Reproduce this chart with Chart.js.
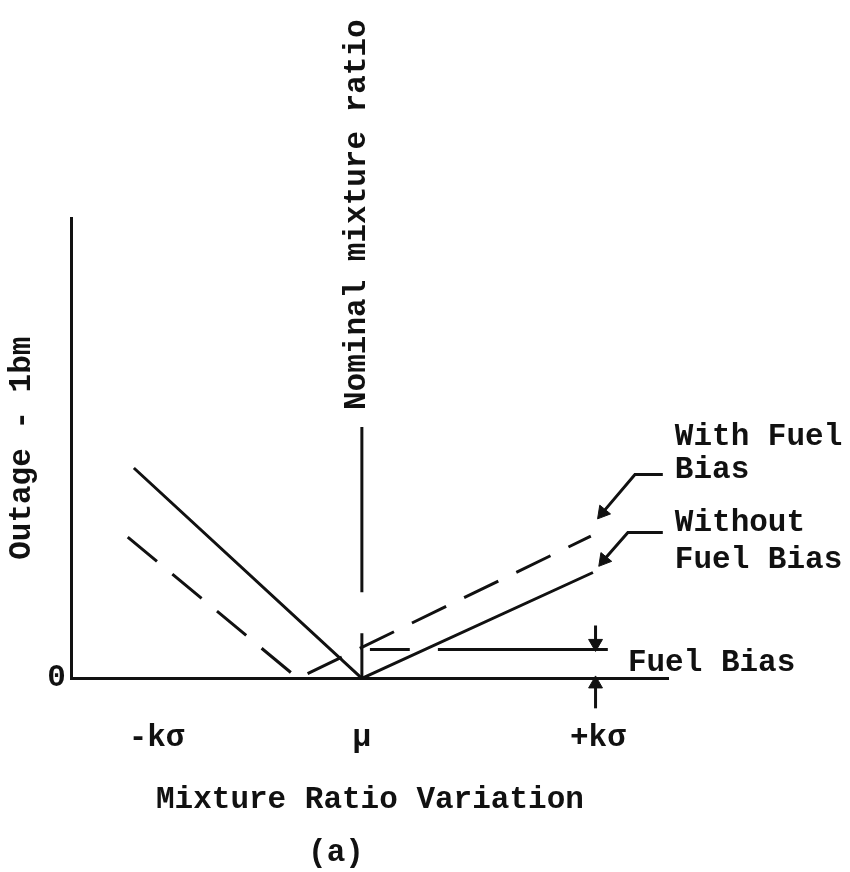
<!DOCTYPE html>
<html>
<head>
<meta charset="utf-8">
<script src="https://cdn.jsdelivr.net/npm/chart.js@4.4.1/dist/chart.umd.min.js"></script>
<style>
  html, body { margin: 0; padding: 0; background: #fff; }
  #box { width: 850px; height: 872px; }
</style>
</head>
<body>
<div id="box"><canvas id="canva1"></canvas></div>
<script>
// axe x : écart au rapport de mélange nominal (unités de kσ)
// axe y : outage (unités arbitraires)
const tickPos = [-0.87, 0, 1];
const tickLabels = ['-kσ', 'μ', '+kσ'];

// sans biais carburant (trait plein)
const sansBiaisX = [-0.966, 0, 0.979];
const sansBiaisY = [4.57, 0, 2.30];

// avec biais carburant (tirets)
const avecBiaisX = [-0.992, -0.271, 0.970];
const avecBiaisY = [3.07, 0, 3.09];

// trait vertical du rapport nominal (coupé)
const nominalX = [0, 0, 0, 0, 0];
const nominalY = [0, 0.98, null, 1.87, 5.46];

// niveau du biais carburant (coupé par la courbe pleine)
const biaisX = [0.034, 0.203, 0.26, 0.322, 1.042];
const biaisY = [0.63, 0.63, null, 0.63, 0.63];

// flèches de renvoi vers les courbes
const flecheAvecX = [1.275, 1.157, 1.02];
const flecheAvecY = [4.43, 4.43, 3.60];
const flecheSansX = [1.275, 1.127, 1.025];
const flecheSansY = [3.17, 3.17, 2.57];

// flèches de cote du biais
const coteHautX = [0.99, 0.99];
const coteHautY = [1.15, 0.76];
const coteBasX = [0.99, 0.99];
const coteBasY = [-0.65, -0.12];

const police = "'Liberation Mono', 'DejaVu Sans Mono', monospace";
const encre = '#111';

// textes posés dans le repère des données
const textes = [
  { t: 'With Fuel', x: 1.326, y: 5.24 },
  { t: 'Bias', x: 1.326, y: 4.52 },
  { t: 'Without', x: 1.326, y: 3.37 },
  { t: 'Fuel Bias', x: 1.326, y: 2.57 },
  { t: 'Fuel Bias', x: 1.127, y: 0.33 }
];

function pts(xs, ys) {
  return xs.map((v, i) => ({ x: v, y: ys[i] }));
}

function fleche(xs, ys, rotation) {
  const n = xs.length;
  return {
    data: pts(xs, ys),
    borderColor: encre,
    backgroundColor: encre,
    borderWidth: 3,
    pointStyle: 'triangle',
    pointRadius: xs.map((v, i) => (i === n - 1 ? 8 : 0)),
    pointRotation: rotation,
    pointBorderWidth: 1,
    clip: false
  };
}

// plugin pour les textes libres
const annotations = {
  id: 'annotations',
  afterDraw(chart) {
    const { ctx, scales: { x, y } } = chart;
    ctx.save();
    ctx.font = 'bold 31px ' + police;
    ctx.fillStyle = encre;
    ctx.textBaseline = 'middle';
    ctx.textAlign = 'left';
    textes.forEach(item => {
      ctx.fillText(item.t, x.getPixelForValue(item.x), y.getPixelForValue(item.y));
    });
    // texte vertical au dessus du trait nominal
    ctx.translate(x.getPixelForValue(-0.02), y.getPixelForValue(5.83));
    ctx.rotate(-Math.PI / 2);
    ctx.fillText('Nominal mixture ratio', 0, 0);
    ctx.restore();
  }
};

Chart.defaults.font.family = police;
Chart.defaults.font.size = 31;
Chart.defaults.font.weight = 'bold';
Chart.defaults.color = encre;

const ctx = document.querySelector('#canva1');

new Chart(ctx, {
  type: 'line',
  data: {
    datasets: [
      {
        data: pts(sansBiaisX, sansBiaisY),
        borderColor: encre,
        borderWidth: 3,
        pointRadius: 0
      },
      {
        data: pts(avecBiaisX, avecBiaisY),
        borderColor: encre,
        borderWidth: 3,
        borderDash: [38, 20],
        pointRadius: 0
      },
      {
        data: pts(nominalX, nominalY),
        borderColor: encre,
        borderWidth: 3,
        pointRadius: 0,
        spanGaps: false
      },
      {
        data: pts(biaisX, biaisY),
        borderColor: encre,
        borderWidth: 3,
        pointRadius: 0,
        spanGaps: false
      },
      fleche(flecheAvecX, flecheAvecY, 219),
      fleche(flecheSansX, flecheSansY, 219),
      fleche(coteHautX, coteHautY, 180),
      fleche(coteBasX, coteBasY, 0)
    ]
  },
  options: {
    responsive: true,
    maintainAspectRatio: false,
    animation: false,
    layout: {
      padding: { left: 4, right: 182, top: 218, bottom: 0 }
    },
    plugins: {
      legend: { display: false },
      tooltip: { enabled: false },
      title: {
        display: true,
        position: 'bottom',
        text: '(a)',
        font: { size: 31, weight: 'bold' },
        padding: { top: 12, bottom: 0 }
      }
    },
    scales: {
      x: {
        type: 'linear',
        min: -1.229,
        max: 1.297,
        grid: { display: false, drawTicks: false },
        border: { display: true, color: encre, width: 3 },
        afterBuildTicks: scale => {
          scale.ticks = tickPos.map(v => ({ value: v }));
        },
        ticks: {
          autoSkip: false,
          maxRotation: 0,
          padding: 41,
          callback: (value, index) => tickLabels[index]
        },
        title: {
          display: true,
          text: 'Mixture Ratio Variation',
          padding: { top: -16, bottom: 4 }
        }
      },
      y: {
        type: 'linear',
        min: 0,
        max: 10,
        grid: { display: false, drawTicks: false },
        border: { display: true, color: encre, width: 3 },
        afterBuildTicks: scale => {
          scale.ticks = [{ value: 0 }];
        },
        ticks: {
          padding: 6,
          callback: () => '0'
        },
        title: {
          display: true,
          text: 'Outage - 1bm',
          padding: 0
        }
      }
    }
  },
  plugins: [annotations]
});
</script>
</body>
</html>
